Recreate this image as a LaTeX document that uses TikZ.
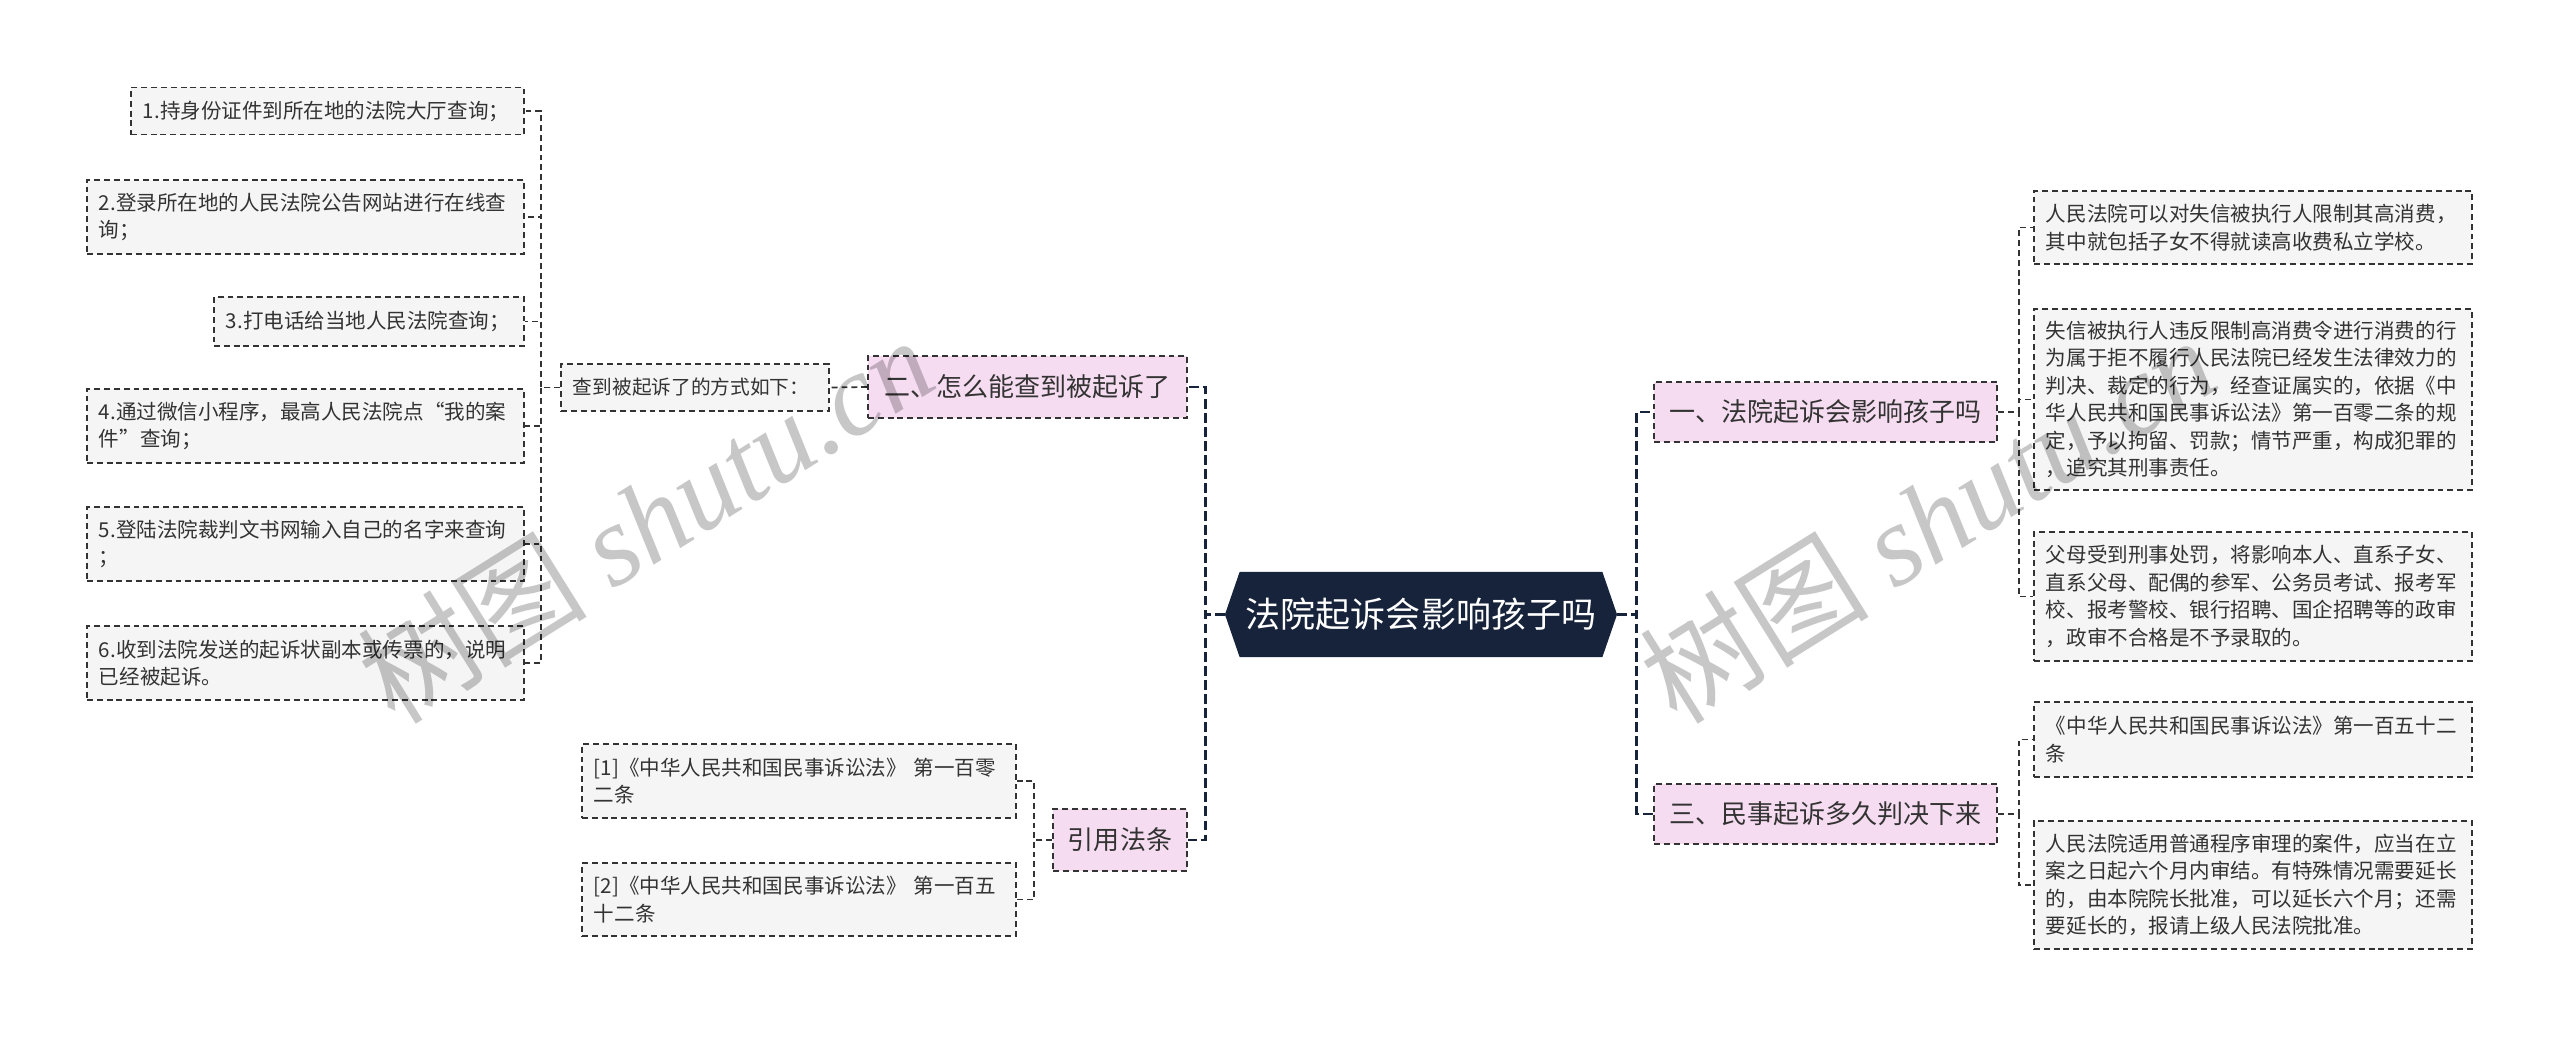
\documentclass[tikz,border=0pt]{standalone}
\usepackage{fontspec}
\setmainfont{Noto Sans CJK SC}
\newfontfamily\wmlatin{Liberation Serif}
\usetikzlibrary{shapes.symbols}
\definecolor{leafbg}{HTML}{F5F5F5}
\definecolor{pinkbg}{HTML}{F5DCF0}
\definecolor{rootbg}{HTML}{16233A}
\definecolor{linec}{HTML}{333333}
\newcommand{\leafsize}{\fontsize{14.6pt}{19.6pt}\selectfont}
\newcommand{\branchsize}{\fontsize{18.5pt}{22pt}\selectfont}
\begin{document}
\begin{tikzpicture}[x=0.025cm,y=-0.025cm,
	leaf/.style={draw=linec,fill=leafbg,text=linec,line width=1.2pt,dash pattern=on 4.2pt off 2.8pt,align=left,inner xsep=0.3cm,inner ysep=2pt,font=\leafsize},
	branch/.style={draw=linec,fill=pinkbg,text=linec,line width=1.2pt,dash pattern=on 4.2pt off 2.8pt,inner sep=2pt,font=\branchsize},
	link/.style={draw=linec,line width=1.2pt,dash pattern=on 4.2pt off 2.8pt},
	trunk/.style={draw=rootbg,line width=2.1pt,dash pattern=on 7pt off 3pt},
	wmark/.style={rotate=32,text=black,text opacity=0.22,font=\fontsize{82pt}{82pt}\selectfont}]
			\useasboundingbox (0,0) rectangle (2560,1039);
			\node[signal,signal to=west and east,signal pointer angle=142,fill=rootbg,text=white,minimum width=9.8cm,minimum height=2.125cm,inner sep=0pt,font=\fontsize{24.9pt}{28pt}\selectfont] (root) at (1421,614.5) {法院起诉会影响孩子吗};
			\node[branch,minimum width=7.975cm,minimum height=1.55cm] (sec2) at (1027.5,387) {二、怎么能查到被起诉了};
			\node[branch,minimum width=3.35cm,minimum height=1.55cm] (cite) at (1120,840) {引用法条};
			\node[branch,minimum width=8.575cm,minimum height=1.5cm] (sec1) at (1825.5,412) {一、法院起诉会影响孩子吗};
			\node[branch,minimum width=8.575cm,minimum height=1.5cm] (sec3) at (1825.5,814) {三、民事起诉多久判决下来};
			\node[leaf,text width=6.1cm,minimum height=1.175cm,font=\fontsize{14pt}{18pt}\selectfont] (ways) at (695,387.5) {查到被起诉了的方式如下：};
			\node[leaf,text width=9.225cm,minimum height=1.175cm] (w1) at (327.5,111) {1.持身份证件到所在地的法院大厅查询；};
			\node[leaf,text width=10.325cm,minimum height=1.85cm] (w2) at (305.5,217) {2.登录所在地的人民法院公告网站进行在线查\\询；};
			\node[leaf,text width=7.15cm,minimum height=1.225cm] (w3) at (369,321.5) {3.打电话给当地人民法院查询；};
			\node[leaf,text width=10.325cm,minimum height=1.85cm] (w4) at (305.5,426) {4.通过微信小程序，最高人民法院点“我的案\\件”查询；};
			\node[leaf,text width=10.325cm,minimum height=1.85cm] (w5) at (305.5,544) {5.登陆法院裁判文书网输入自己的名字来查询\\；};
			\node[leaf,text width=10.325cm,minimum height=1.85cm] (w6) at (305.5,663) {6.收到法院发送的起诉状副本或传票的，说明\\已经被起诉。};
			\node[leaf,text width=10.25cm,minimum height=1.85cm] (law1) at (799,781) {[1]《中华人民共和国民事诉讼法》 第一百零\\二条};
			\node[leaf,text width=10.25cm,minimum height=1.825cm] (law2) at (799,899.5) {[2]《中华人民共和国民事诉讼法》 第一百五\\十二条};
			\node[leaf,text width=10.35cm,minimum height=1.825cm] (r1) at (2253,227.5) {人民法院可以对失信被执行人限制其高消费，\\其中就包括子女不得就读高收费私立学校。};
			\node[leaf,text width=10.35cm,minimum height=4.525cm] (r2) at (2253,399.5) {失信被执行人违反限制高消费令进行消费的行\\为属于拒不履行人民法院已经发生法律效力的\\判决、裁定的行为，经查证属实的，依据《中\\华人民共和国民事诉讼法》第一百零二条的规\\定，予以拘留、罚款；情节严重，构成犯罪的\\，追究其刑事责任。};
			\node[leaf,text width=10.35cm,minimum height=3.225cm] (r3) at (2253,596.5) {父母受到刑事处罚，将影响本人、直系子女、\\直系父母、配偶的参军、公务员考试、报考军\\校、报考警校、银行招聘、国企招聘等的政审\\，政审不合格是不予录取的。};
			\node[leaf,text width=10.35cm,minimum height=1.875cm] (r4) at (2253,739.5) {《中华人民共和国民事诉讼法》第一百五十二\\条};
			\node[leaf,text width=10.35cm,minimum height=3.2cm] (r5) at (2253,885) {人民法院适用普通程序审理的案件，应当在立\\案之日起六个月内审结。有特殊情况需要延长\\的，由本院院长批准，可以延长六个月；还需\\要延长的，报请上级人民法院批准。};
			\draw[trunk] (root.west) -- ++(-19,0) |- (sec2.east);
			\draw[trunk] (root.west) -- ++(-19,0) |- (cite.east);
			\draw[trunk] (root.east) -- ++(19,0) |- (sec1.west);
			\draw[trunk] (root.east) -- ++(19,0) |- (sec3.west);
			\draw[link] (sec2.west) -- (ways.east);
			\foreach \w in {w1,w2,w3,w4,w5,w6}
				\draw[link] (ways.west) -- ++(-19,0) |- (\w.east);
			\foreach \l in {law1,law2}
				\draw[link] (cite.west) -- ++(-18,0) |- (\l.east);
			\foreach \r in {r1,r2,r3}
				\draw[link] (sec1.east) -- ++(21,0) |- (\r.west);
			\foreach \r in {r4,r5}
				\draw[link] (sec3.east) -- ++(21,0) |- (\r.west);
			\node[wmark] (wm1) at (645,519) {树图 {\wmlatin\itshape shutu.cn}};
			\node[wmark] (wm2) at (1927,519) {树图 {\wmlatin\itshape shutu.cn}};
		\end{tikzpicture}
\end{document}
